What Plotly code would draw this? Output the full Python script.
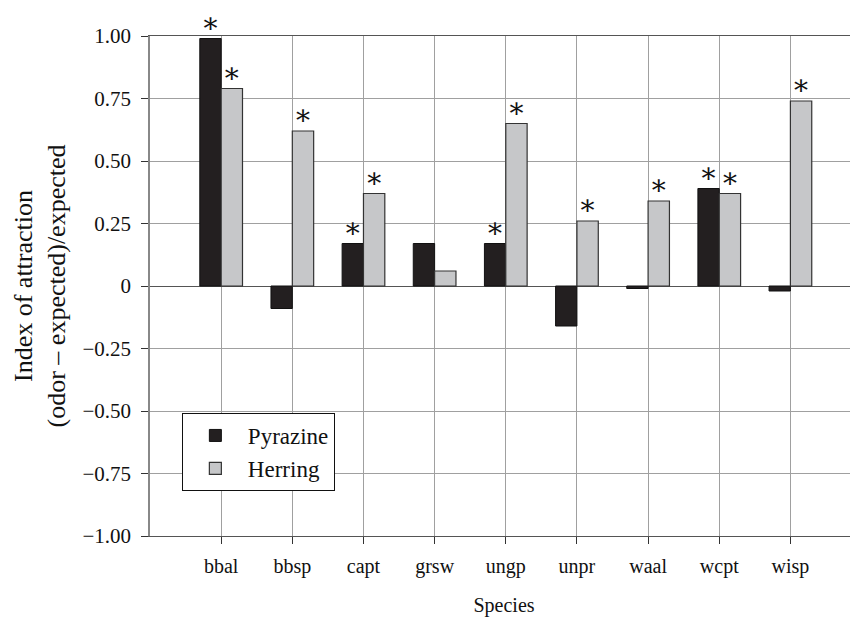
import plotly.graph_objects as go

species = ["bbal", "bbsp", "capt", "grsw", "ungp", "unpr", "waal", "wcpt", "wisp"]
pyrazine = [0.99, -0.09, 0.17, 0.17, 0.17, -0.16, -0.01, 0.39, -0.02]
herring = [0.79, 0.62, 0.37, 0.06, 0.65, 0.26, 0.34, 0.37, 0.74]
pyrazine_sig = ["\u204e", "", "\u204e", "", "\u204e", "", "", "\u204e", ""]
herring_sig = ["\u204e", "\u204e", "\u204e", "", "\u204e", "\u204e", "\u204e", "\u204e", "\u204e"]
y_ticks = [1.0, 0.75, 0.5, 0.25, 0, -0.25, -0.5, -0.75, -1.0]
y_ticktext = ["1.00", "0.75", "0.50", "0.25", "0", "\u22120.25", "\u22120.50", "\u22120.75", "\u22121.00"]

FONT = "Liberation Serif, Times New Roman, serif"
STAR_FONT = "DejaVu Serif, DejaVu Sans, serif"

fig = go.Figure()
fig.add_trace(go.Bar(
    name="Pyrazine", x=species, y=pyrazine, text=pyrazine_sig,
    textposition="outside", constraintext="none",
    textfont=dict(size=28, color="#111", family=STAR_FONT),
    marker=dict(color="#231f20", line=dict(color="#111", width=1)),
    cliponaxis=False,
))
fig.add_trace(go.Bar(
    name="Herring", x=species, y=herring, text=herring_sig,
    textposition="outside", constraintext="none",
    textfont=dict(size=28, color="#111", family=STAR_FONT),
    marker=dict(color="#c6c7c9", line=dict(color="#333", width=1.2)),
    cliponaxis=False,
))

fig.update_layout(
    width=850, height=609,
    margin=dict(l=142, r=0, t=28, b=81),
    paper_bgcolor="white", plot_bgcolor="white",
    font=dict(family=FONT, size=20, color="#111"),
    barmode="group", bargap=0.4, bargroupgap=0,
    showlegend=True,
    legend=dict(
        x=0.045, y=0.246, xanchor="left", yanchor="top",
        bgcolor="white", bordercolor="#111", borderwidth=1,
        font=dict(size=23, family=FONT, color="#111"),
        traceorder="normal", itemwidth=55,
    ),
    xaxis=dict(
        type="category", range=[-1, 8.95],
        showgrid=True, gridcolor="#a0a0a0", gridwidth=1.3,
        showline=True, linecolor="#555", linewidth=1.3, mirror=True,
        ticks="outside", ticklen=7, tickcolor="#333", tickwidth=1,
        ticklabelstandoff=5,
        tickfont=dict(size=20, family=FONT),
        title=dict(text="Species", font=dict(size=20, family=FONT), standoff=22),
    ),
    yaxis=dict(
        range=[-1, 1], tickvals=y_ticks, ticktext=y_ticktext,
        showgrid=True, gridcolor="#a0a0a0", gridwidth=1.3,
        zeroline=True, zerolinecolor="#555", zerolinewidth=1.3,
        showline=True, linecolor="#888", linewidth=1.5,
        ticks="outside", ticklen=7, tickcolor="#333", tickwidth=1,
        ticklabelstandoff=6,
        tickfont=dict(size=21, family=FONT),
        title=dict(text="Index of attraction<br>(odor \u2013 expected)/expected",
                   font=dict(size=26, family=FONT), standoff=9),
    ),
)

fig.write_html("out.html")
